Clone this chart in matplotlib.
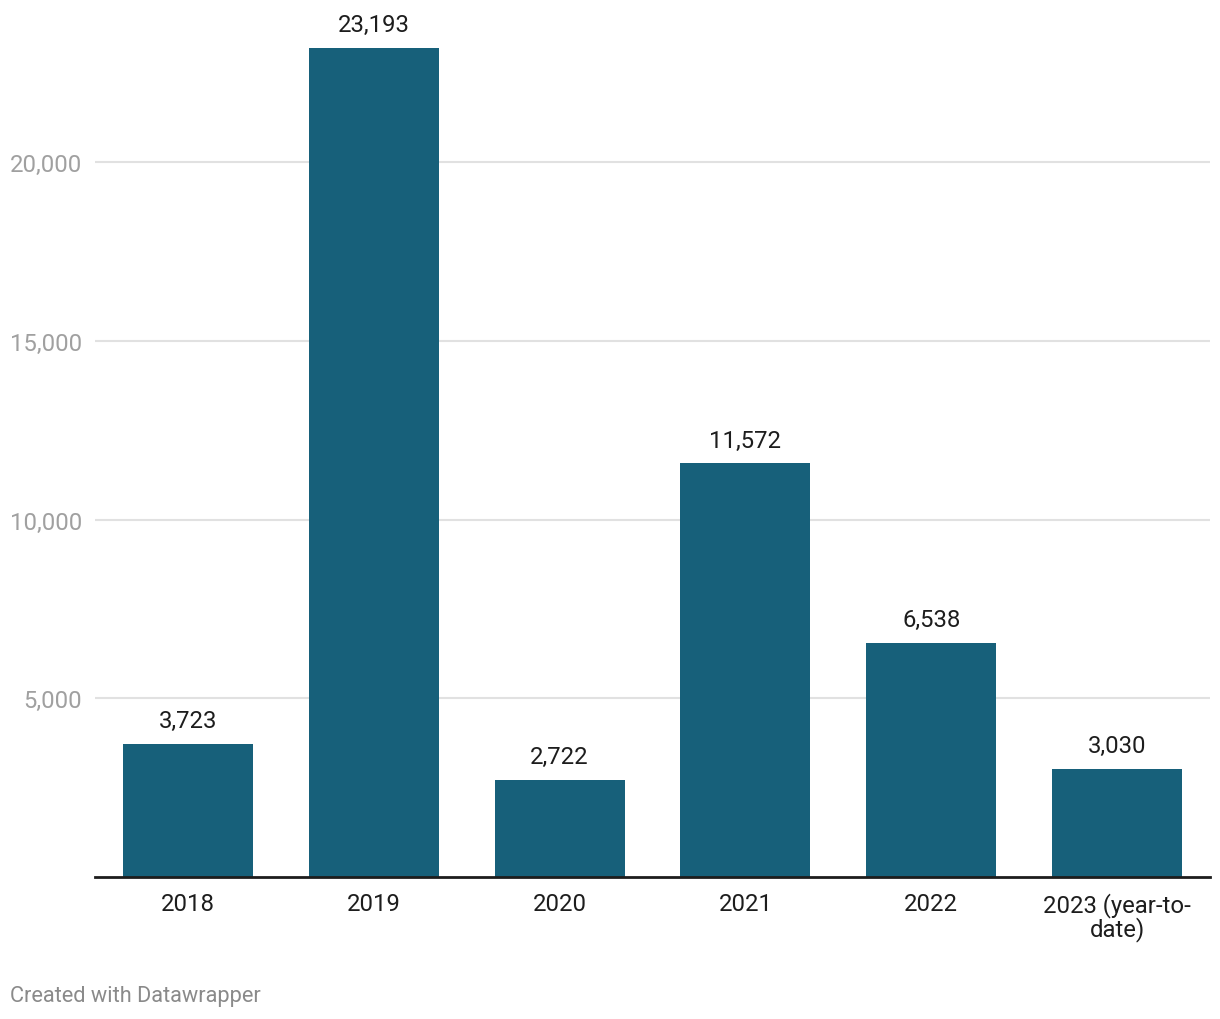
import matplotlib.pyplot as plt

years = ['2018', '2019', '2020', '2021', '2022', '2023 (year-to-\ndate)']
values = [3723, 23193, 2722, 11572, 6538, 3030]
yticks = [5000, 10000, 15000, 20000]

plt.rcParams['font.family'] = ['Roboto', 'DejaVu Sans']

fig = plt.figure(figsize=(12.2, 10.2), dpi=100)
ax = fig.add_axes([95 / 1220, 142 / 1020, 1115 / 1220, 858 / 1020])

x = range(len(years))
bars = ax.bar(x, values, width=0.7, color='#17607a', zorder=2)

for xi, v in zip(x, values):
    ax.annotate(f"{v:,}", (xi, v), xytext=(0, 8.5), textcoords='offset points',
                ha='center', va='bottom', fontsize=17.2, color='#1d1d1d')

ax.set_xlim(-0.5, len(years) - 0.5)
ax.set_ylim(0, 24000)
ax.set_yticks(yticks)
ax.set_yticklabels([f"{t:,}" for t in yticks])
ax.set_xticks(list(x))
ax.set_xticklabels(years, linespacing=1.0)

ax.grid(axis='y', color='#e1e1e1', lw=1.5, zorder=0)
ax.tick_params(axis='y', length=0, pad=9.5, labelsize=17.2, labelcolor='#a0a0a0')
ax.tick_params(axis='x', length=0, pad=10.5, labelsize=17.2, labelcolor='#1d1d1d')
for s in ['top', 'right', 'left']:
    ax.spines[s].set_visible(False)
ax.spines['bottom'].set_color('#1d1d1d')
ax.spines['bottom'].set_linewidth(2)
ax.spines['bottom'].set_zorder(3)

fig.text(10 / 1220, 1 - 997 / 1020, 'Created with Datawrapper', fontsize=15.7,
         color='#8a8a8a', ha='left', va='center')

fig.savefig('out.png', dpi=100)
